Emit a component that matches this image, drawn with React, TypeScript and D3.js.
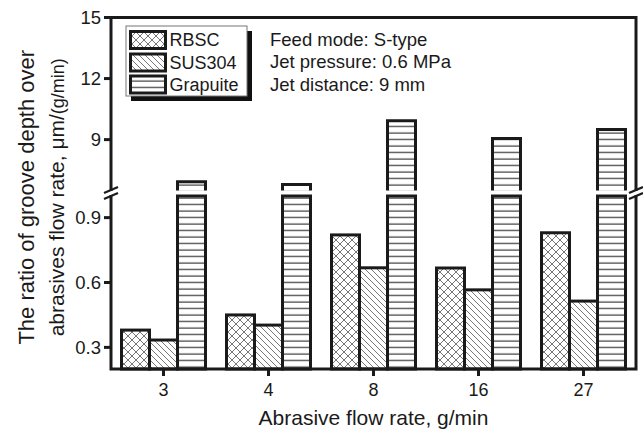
import React from "react";
import * as d3 from "d3";

const categories = ["3", "4", "8", "16", "27"];
const seriesNames = ["RBSC", "SUS304", "Grapuite"];
const rbsc = [0.38, 0.45, 0.82, 0.667, 0.83];
const sus304 = [0.334, 0.403, 0.668, 0.566, 0.514];
const grapuite = [6.93, 6.8, 9.93, 9.05, 9.5];
const upperTicks = [9, 12, 15];
const lowerTicks = [0.3, 0.6, 0.9];
const annotation = ["Feed mode: S-type", "Jet pressure: 0.6 MPa", "Jet distance: 9 mm"];

const W = 643, H = 434;
const L = 111, R = 636, T = 17.5, B = 369;
const LOW_TOP = 196, UP_BOT = 190.5;

export default function App() {
  const x0 = d3.scaleBand<string>().domain(categories).range([L, R]).paddingInner(0.2).paddingOuter(0.1);
  const x1 = d3.scaleBand<string>().domain(seriesNames).range([0, x0.bandwidth()]).padding(0);
  const yLow = d3.scaleLinear().domain([0.2, 1.0]).range([B, LOW_TOP]);
  const yUp = d3.scaleLinear().domain([6.5, 15]).range([UP_BOT, T]);
  const values = [rbsc, sus304, grapuite];
  const fills = ["url(#pCross)", "url(#pDiag)", "url(#pHoriz)"];
  const font = "Arial, 'Liberation Sans', sans-serif";
  const col = "#1a1a1a";
  const sw = 3;

  const bars: React.ReactNode[] = [];
  values.forEach((vals, si) => {
    vals.forEach((v, ci) => {
      const bx = (x0(categories[ci]) as number) + (x1(seriesNames[si]) as number);
      const bw = x1.bandwidth();
      if (v <= 1.0) {
        const y = yLow(v);
        bars.push(
          <rect key={`b${si}-${ci}`} x={bx} y={y} width={bw} height={B - y}
            fill={fills[si]} stroke={col} strokeWidth={sw} />
        );
      } else {
        const y1 = yLow(1.0);
        bars.push(
          <rect key={`bl${si}-${ci}`} x={bx} y={y1} width={bw} height={B - y1}
            fill={fills[si]} stroke={col} strokeWidth={sw} />
        );
        const yt = yUp(v);
        bars.push(
          <g key={`bu${si}-${ci}`}>
            <rect x={bx} y={yt} width={bw} height={UP_BOT - yt} fill={fills[si]} />
            <path d={`M${bx},${UP_BOT}V${yt}H${bx + bw}V${UP_BOT}`} fill="none" stroke={col} strokeWidth={sw} />
          </g>
        );
      }
    });
  });

  const breakY = 193;
  const slash = (cx: number, dy: number, k: string) => (
    <line key={k} x1={cx - 7} y1={breakY + dy + 3} x2={cx + 7} y2={breakY + dy - 3} stroke={col} strokeWidth={2.2} />
  );

  const legendY = [31.5, 54, 76];

  return (
    <svg width={W} height={H} style={{ position: "absolute", left: 0, top: 0, background: "#fff" }}
      fontFamily={font}>
      <defs>
        <pattern id="pCross" patternUnits="userSpaceOnUse" width={8} height={8}>
          <rect width={8} height={8} fill="#fff" />
          <path d="M0,0L8,8M8,0L0,8M-2,6L2,10M6,-2L10,2M6,10L10,6M-2,2L2,-2" stroke="#555" strokeWidth={0.8} />
        </pattern>
        <pattern id="pDiag" patternUnits="userSpaceOnUse" width={6} height={6}>
          <rect width={6} height={6} fill="#fff" />
          <path d="M0,0L6,6M-3,3L3,9M3,-3L9,3" stroke="#555" strokeWidth={0.8} />
        </pattern>
        <pattern id="pHoriz" patternUnits="userSpaceOnUse" width={8} height={6.5}>
          <rect width={8} height={6.5} fill="#fff" />
          <line x1={0} x2={8} y1={3} y2={3} stroke="#111" strokeWidth={1} />
        </pattern>
      </defs>

      {bars}

      {/* frame */}
      <rect x={L} y={T} width={R - L} height={B - T} fill="none" stroke={col} strokeWidth={sw} />

      {/* axis breaks */}
      <rect x={L - 8} y={breakY - 2} width={16} height={4} fill="#fff" />
      {slash(L, -3, "sl1")}
      {slash(L, 3, "sl2")}
      <rect x={R - 8} y={breakY - 2} width={16} height={4} fill="#fff" />
      {slash(R, -3, "sr1")}
      {slash(R, 3, "sr2")}

      {/* y ticks upper */}
      {upperTicks.map((t) => (
        <g key={`u${t}`}>
          <line x1={L - 7} x2={L} y1={yUp(t)} y2={yUp(t)} stroke={col} strokeWidth={sw} />
          <text x={L - 10} y={yUp(t)} dy="0.36em" textAnchor="end" fontSize={18.5} fill={col}>{t}</text>
        </g>
      ))}
      {lowerTicks.map((t) => (
        <g key={`l${t}`}>
          <line x1={L - 7} x2={L} y1={yLow(t)} y2={yLow(t)} stroke={col} strokeWidth={sw} />
          <text x={L - 10} y={yLow(t)} dy="0.36em" textAnchor="end" fontSize={18.5} fill={col}>{t.toFixed(1)}</text>
        </g>
      ))}

      {/* x ticks */}
      {categories.map((c) => {
        const cx = (x0(c) as number) + x0.bandwidth() / 2;
        return (
          <g key={`x${c}`}>
            <line x1={cx} x2={cx} y1={B} y2={B + 7} stroke={col} strokeWidth={sw} />
            <text x={cx} y={396} textAnchor="middle" fontSize={18} fill={col}>{c}</text>
          </g>
        );
      })}

      {/* axis titles */}
      <text x={(L + R) / 2} y={425} textAnchor="middle" fontSize={21} fill={col}>Abrasive flow rate, g/min</text>
      <g transform={`translate(34, ${(T + B) / 2 + 4}) rotate(-90)`}>
        <text x={0} y={0} textAnchor="middle" fontSize={22} fill={col}>The ratio of groove depth over</text>
      </g>
      <g transform={`translate(64, ${(T + B) / 2 + 4}) rotate(-90)`}>
        <text x={0} y={0} textAnchor="middle" fontSize={21} fill={col}>
          abrasives flow rate, μm/<tspan fontSize={18}>(g/min)</tspan>
        </text>
      </g>

      {/* legend */}
      <rect x={131} y={31} width={121} height={70} fill="#111" />
      <rect x={126} y={26} width={121} height={70} fill="#fff" stroke="#777" strokeWidth={1} />
      {seriesNames.map((s, i) => (
        <g key={`lg${s}`}>
          <rect x={130.5} y={legendY[i]} width={35} height={17} fill={fills[i]} stroke={col} strokeWidth={sw} />
          <text x={169.5} y={legendY[i] + 14.5} fontSize={18} fill={col}>{s}</text>
        </g>
      ))}

      {/* annotation */}
      {annotation.map((a, i) => (
        <text key={`an${i}`} x={270} y={46 + i * 22.3} fontSize={18.5} fill={col}>{a}</text>
      ))}
    </svg>
  );
}
